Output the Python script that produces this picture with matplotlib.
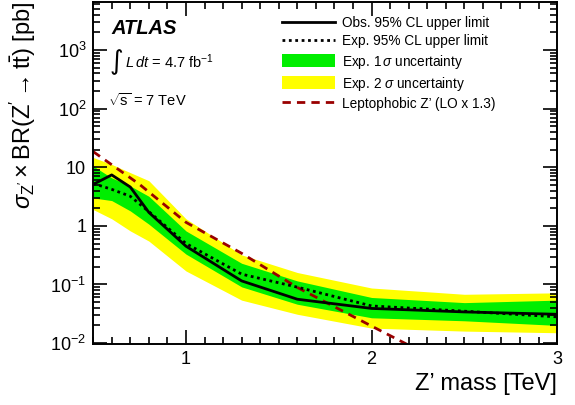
import matplotlib
matplotlib.use("Agg")
import matplotlib.pyplot as plt
from matplotlib.patches import Patch
from matplotlib.lines import Line2D
from matplotlib.ticker import MultipleLocator, LogLocator, NullFormatter, FixedLocator, FixedFormatter

plt.rcParams["font.family"] = ["Liberation Sans", "DejaVu Sans"]
plt.rcParams["mathtext.fontset"] = "custom"
plt.rcParams["mathtext.rm"] = "Liberation Sans"
plt.rcParams["mathtext.it"] = "Liberation Sans:italic"
plt.rcParams["mathtext.bf"] = "Liberation Sans:bold"

# Z' mass points [TeV]
mass = [0.5, 0.6, 0.7, 0.8, 1.0, 1.3, 1.6, 2.0, 2.5, 3.0]
# limits [pb]
obs = [5.1, 7.4, 4.6, 1.7, 0.45, 0.115, 0.056, 0.039, 0.034, 0.031]
exp = [5.3, 4.2, 3.2, 1.75, 0.5, 0.15, 0.09, 0.043, 0.035, 0.028]
sig1_up = [10.5, 6.6, 4.8, 3.2, 0.82, 0.23, 0.115, 0.060, 0.049, 0.054]
sig1_dn = [3.0, 2.7, 1.8, 1.07, 0.33, 0.091, 0.046, 0.027, 0.024, 0.020]
sig2_up = [14.7, 11.2, 8.1, 5.9, 1.32, 0.32, 0.16, 0.087, 0.068, 0.072]
sig2_dn = [1.9, 1.32, 0.82, 0.55, 0.17, 0.054, 0.031, 0.018, 0.016, 0.015]

# leptophobic Z' theory (LO x 1.3)
th_mass = [0.5, 0.75, 1.0, 1.3, 1.6, 2.0, 2.2]
th_xs = [18.5, 5.1, 1.15, 0.34, 0.089, 0.0195, 0.0092]

fig = plt.figure(figsize=(5.75, 4.05), dpi=100)
ax = fig.add_axes([0.162, 0.151, 0.807, 0.844])

ax.fill_between(mass, sig2_dn, sig2_up, color="#ffff00", lw=0)
ax.fill_between(mass, sig1_dn, sig1_up, color="#00ee00", lw=0)
ax.plot(th_mass, th_xs, color="#990000", lw=2, ls=(0, (3, 2.2)))
ax.plot(mass, exp, color="black", lw=2, ls=(0, (1, 1.3)))
ax.plot(mass, obs, color="black", lw=2)

ax.set_yscale("log")
ax.set_xlim(0.5, 3.0)
ax.set_ylim(0.0097, 6600)

ax.xaxis.set_major_locator(FixedLocator([1, 2, 3]))
ax.xaxis.set_major_formatter(FixedFormatter(["1", "2", "3"]))
ax.xaxis.set_minor_locator(MultipleLocator(0.1))
ax.yaxis.set_minor_locator(LogLocator(base=10, subs=range(2, 10), numticks=20))
ax.yaxis.set_minor_formatter(NullFormatter())
ax.set_yticks([0.01, 0.1, 1, 10, 100, 1000])
ax.set_yticklabels(["$10^{-2}$", "$10^{-1}$", "1", "10", "$10^{2}$", "$10^{3}$"])

ax.tick_params(which="both", direction="in", top=True, right=True, width=1.2, labelsize=13)
ax.tick_params(which="major", length=10, pad=5)
ax.tick_params(which="minor", length=5)
for s in ax.spines.values():
    s.set_linewidth(1.4)

ax.set_xlabel("Z\u2019 mass [TeV]", fontsize=17, ha="right", x=1.0, labelpad=4)
ax.set_ylabel(r"$\sigma_{\mathrm{Z'}}\times\mathrm{BR(Z'\rightarrow t\bar{t})}$ [pb]",
              fontsize=17, ha="right", y=1.0, labelpad=9)

ax.text(0.04, 0.924, "ATLAS", transform=ax.transAxes, fontsize=14.5,
        fontweight="bold", fontstyle="italic", va="center")
ax.text(0.036, 0.825, "\u222b", transform=ax.transAxes, fontsize=19,
        family="DejaVu Sans", va="center")
ax.text(0.068, 0.825, r"$L\,dt$ = 4.7 fb$^{-1}$", transform=ax.transAxes,
        fontsize=10.5, va="center")
ax.text(0.033, 0.713, r"$\sqrt{\mathrm{s}}$ = 7 TeV", transform=ax.transAxes,
        fontsize=10.5, va="center")

handles = [
    Line2D([], [], color="black", lw=2),
    Line2D([], [], color="black", lw=2, ls=(0, (1, 1.3))),
    Patch(facecolor="#00ee00", edgecolor="none"),
    Patch(facecolor="#ffff00", edgecolor="none"),
    Line2D([], [], color="#990000", lw=2, ls=(0, (3, 2.2))),
]
labels = [
    "Obs. 95% CL upper limit",
    "Exp. 95% CL upper limit",
    r"Exp. 1$\,\sigma$ uncertainty",
    r"Exp. 2 $\sigma$ uncertainty",
    "Leptophobic Z\u2019 (LO x 1.3)",
]
ax.legend(handles, labels, loc="upper left", bbox_to_anchor=(0.395, 0.975), frameon=False,
          fontsize=9.8, handlelength=3.9, handleheight=1.1, labelspacing=0.3,
          handletextpad=0.55, borderaxespad=0)

fig.savefig("out.png", dpi=100)
